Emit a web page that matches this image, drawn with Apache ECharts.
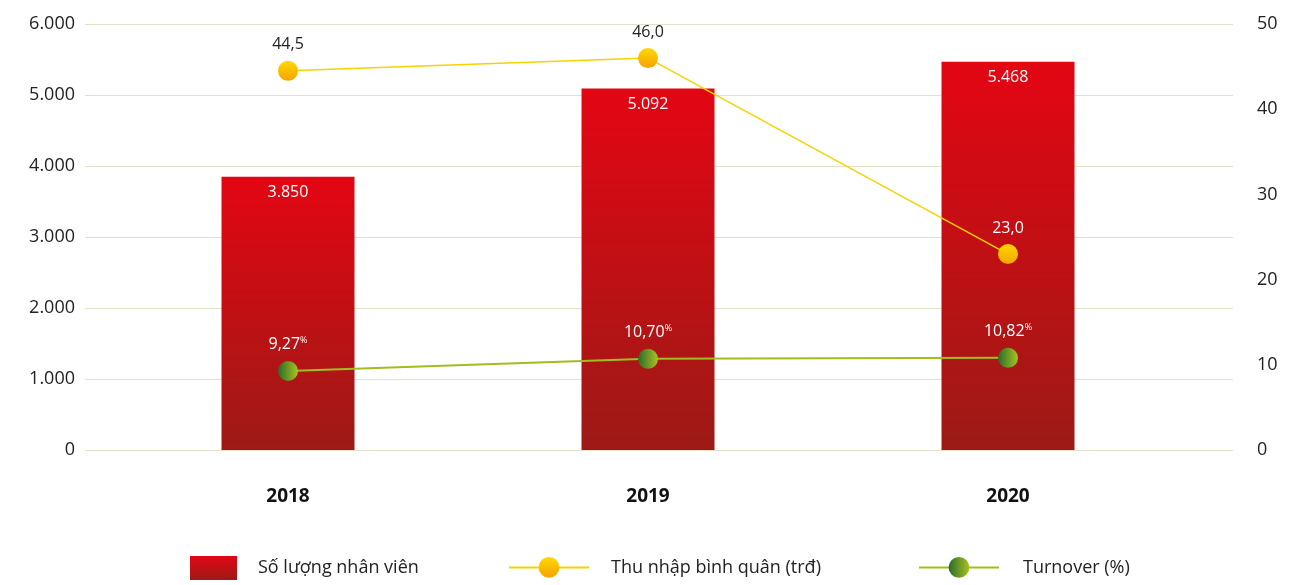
<!DOCTYPE html>
<html>
<head>
<meta charset="utf-8">
<script src="https://cdn.jsdelivr.net/npm/echarts@6/dist/echarts.min.js"></script>
<style>
  html, body { margin: 0; padding: 0; background: #fff; }
  #chart { width: 1310px; height: 585px; }
</style>
</head>
<body>
<div id="chart"></div>
<script>
// data
var years = ['2018', '2019', '2020']
var staff = [3850, 5092, 5468]
var income = [44.5, 46.0, 23.0]
var turnover = [9.27, 10.70, 10.82]
var leftTicks = [0, 6000, 1000]
var rightTicks = [0, 50, 10]

var FONT = 'Open Sans'

function dotNum(v) {
  return String(v).replace(/\B(?=(\d{3})+(?!\d))/g, '.')
}

var barColor = new echarts.graphic.LinearGradient(0, 0, 0, 1, [
  { offset: 0, color: '#e30613' },
  { offset: 1, color: '#9c1a16' }
])
var yellowDot = new echarts.graphic.LinearGradient(0, 0, 0, 1, [
  { offset: 0, color: '#ffd800' },
  { offset: 1, color: '#f5a300' }
])
var greenDot = new echarts.graphic.LinearGradient(0, 0, 1, 0, [
  { offset: 0, color: '#2c6a2b' },
  { offset: 1, color: '#a8c41f' }
])

var legendText = { fontFamily: FONT, fontSize: 18, color: '#222' }

var chart = echarts.init(document.getElementById('chart'))

var option = {
  backgroundColor: '#ffffff',
  textStyle: { fontFamily: FONT },
  grid: [
    { left: 85, right: 77, top: 24, bottom: 135 },
    { left: 108, right: 122, top: 24, bottom: 135 }
  ],
  legend: [
    {
      data: [{ name: 'Số lượng nhân viên', icon: 'rect' }],
      left: 190, top: 556, padding: 0,
      itemWidth: 47, itemHeight: 24,
      textStyle: Object.assign({ padding: [0, 0, 0, 16] }, legendText)
    },
    {
      data: ['Thu nhập bình quân (trđ)'],
      left: 508, top: 557, padding: 0,
      itemWidth: 80, itemHeight: 26,
      textStyle: Object.assign({ padding: [0, 0, 0, 17] }, legendText)
    },
    {
      data: ['Turnover (%)'],
      left: 918, top: 557, padding: 0,
      itemWidth: 80, itemHeight: 26,
      textStyle: Object.assign({ padding: [0, 0, 0, 19] }, legendText)
    }
  ],
  xAxis: [
    {
      type: 'category', gridIndex: 0, data: years, show: false
    },
    {
      type: 'category', gridIndex: 1, data: years,
      axisLine: { show: false }, axisTick: { show: false },
      axisLabel: { margin: 37, fontFamily: FONT, fontSize: 19, fontWeight: 'bold', color: '#111' }
    }
  ],
  yAxis: [
    {
      type: 'value', gridIndex: 0, position: 'left',
      min: leftTicks[0], max: leftTicks[1], interval: leftTicks[2],
      axisLine: { show: false }, axisTick: { show: false },
      axisLabel: { margin: 10, fontFamily: FONT, fontSize: 18, color: '#222', formatter: dotNum },
      splitLine: { lineStyle: { color: '#e6e0c8', width: 1 } }
    },
    {
      type: 'value', gridIndex: 0, position: 'right',
      min: rightTicks[0], max: rightTicks[1], interval: rightTicks[2],
      axisLine: { show: false }, axisTick: { show: false },
      axisLabel: { margin: 24, fontFamily: FONT, fontSize: 18, color: '#222' },
      splitLine: { show: false }
    },
    {
      type: 'value', gridIndex: 1, position: 'left',
      min: leftTicks[0], max: leftTicks[1], show: false, splitLine: { show: false }
    },
    {
      type: 'value', gridIndex: 1, position: 'right',
      min: rightTicks[0], max: rightTicks[1], show: false, splitLine: { show: false }
    }
  ],
  series: [
    {
      name: 'Số lượng nhân viên',
      type: 'bar', xAxisIndex: 1, yAxisIndex: 2,
      data: staff, barWidth: 133,
      itemStyle: { color: barColor },
      label: {
        show: true, position: 'insideTop', distance: 8,
        fontFamily: FONT, fontSize: 16, color: '#fff',
        formatter: function (p) { return dotNum(p.value) }
      },
      z: 2
    },
    {
      name: 'Thu nhập bình quân (trđ)',
      type: 'line', xAxisIndex: 1, yAxisIndex: 3,
      data: income,
      symbol: 'circle', symbolSize: 20,
      lineStyle: { color: '#f7d200', width: 1.5 },
      itemStyle: { color: yellowDot },
      label: {
        show: true, position: 'top', distance: 8,
        formatter: function (p) {
          var s = p.value.toFixed(1).replace('.', ',')
          return p.dataIndex === 2 ? '{w|' + s + '}' : '{d|' + s + '}'
        },
        rich: {
          d: { color: '#222', fontFamily: FONT, fontSize: 16 },
          w: { color: '#fff', fontFamily: FONT, fontSize: 16 }
        }
      },
      z: 5
    },
    {
      name: 'Turnover (%)',
      type: 'line', xAxisIndex: 1, yAxisIndex: 3,
      data: turnover,
      symbol: 'circle', symbolSize: 20,
      lineStyle: { color: '#9ebf1e', width: 2 },
      itemStyle: { color: greenDot },
      label: {
        show: true, position: 'top', distance: 8,
        formatter: function (p) {
          return '{n|' + p.value.toFixed(2).replace('.', ',') + '}{p|%}'
        },
        rich: {
          n: { color: '#fff', fontFamily: FONT, fontSize: 16 },
          p: { color: '#fff', fontFamily: FONT, fontSize: 9, verticalAlign: 'top', padding: [0, 0, 8, 0] }
        }
      },
      z: 5
    }
  ]
}

chart.setOption(option)
</script>
</body>
</html>
